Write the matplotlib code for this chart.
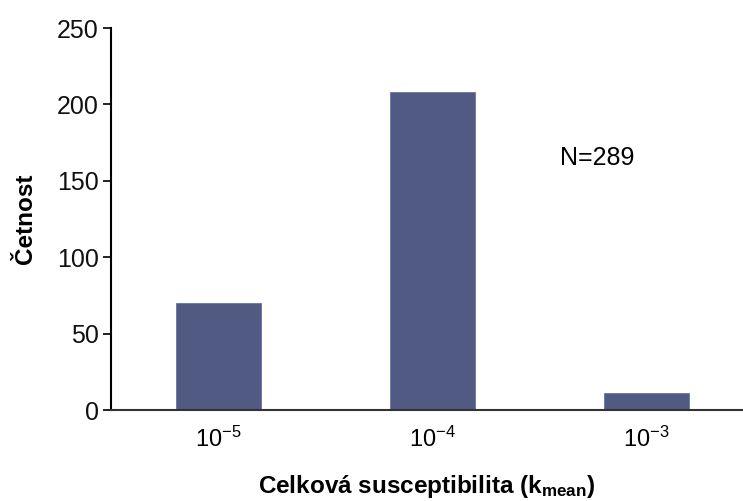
import matplotlib
matplotlib.use('Agg')
import matplotlib.pyplot as plt
import numpy as np

# Data
categories = [r'$10^{-5}$', r'$10^{-4}$', r'$10^{-3}$']
counts = [70, 208, 11]
n_total = 289

plt.rcParams['font.family'] = ['Liberation Sans', 'DejaVu Sans']
plt.rcParams['mathtext.default'] = 'regular'

fig = plt.figure(figsize=(7.43, 5.01), dpi=100)
ax = fig.add_axes([0.1494, 0.1816, 0.8506, 0.7624])

x = np.arange(len(categories))
ax.bar(x, counts, width=0.4, color='#505a82', edgecolor='#6a73a0', linewidth=0.6)

ax.set_xlim(-0.502, 2.45)
ax.set_ylim(0, 250)
ax.set_yticks([0, 50, 100, 150, 200, 250])
ax.set_xticks(x)
ax.set_xticklabels(categories)

ax.tick_params(axis='y', labelsize=18, length=6, width=1.3, pad=3, colors='#111111')
ax.tick_params(axis='x', labelsize=17, length=0, pad=12)

for side in ['top', 'right']:
    ax.spines[side].set_visible(False)
ax.spines['left'].set_linewidth(1.5)
ax.spines['bottom'].set_linewidth(1.5)
ax.spines['bottom'].set_color('#333333')

ax.set_ylabel('Četnost', fontsize=17.5, fontweight='bold', labelpad=14)
ax.set_xlabel('Celková susceptibilita (k$_{mean}$)', fontsize=17.5, fontweight='bold', labelpad=15)

ax.text(1.77, 165, f'N={n_total}', fontsize=18, ha='center', va='center')

fig.savefig('out.png', dpi=100, facecolor='white')
